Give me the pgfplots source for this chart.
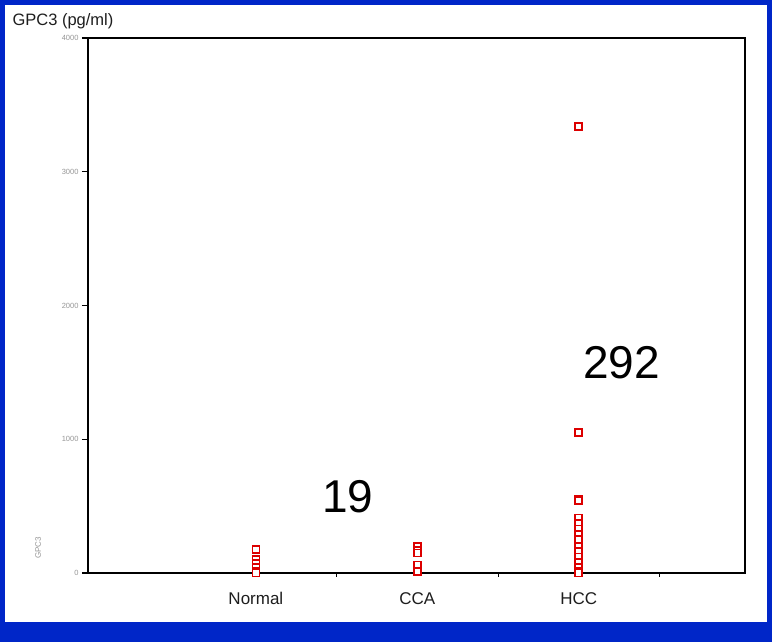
\documentclass[border=0pt]{standalone}
\usepackage{pgfplots}
\pgfplotsset{compat=1.18}
\usepackage{fontspec}
\setmainfont{Liberation Sans}
\definecolor{frameblue}{RGB}{0,38,200}
\definecolor{ptred}{RGB}{220,0,0}
\definecolor{lblgrey}{RGB}{30,30,30}
\definecolor{tickgrey}{RGB}{150,150,150}
\begin{document}
\begin{tikzpicture}[x=1pt,y=1pt]
\fill[frameblue] (0,0) rectangle (772,642);
\fill[white] (5,20) rectangle (767,637);
\node[anchor=west,text=lblgrey,font=\fontsize{16.5}{18}\selectfont] at (9,621) {GPC3 (pg/ml)};
\node[rotate=90,text=tickgrey,font=\fontsize{8}{9}\selectfont] at (38,94) {GPC3};
\begin{axis}[
  at={(88pt,69pt)}, anchor=south west,
  scale only axis, width=657pt, height=535pt,
  xmin=-0.04, xmax=4.03, ymin=0, ymax=4000,
  axis line style={black, line width=1.4pt},
  xtick pos=bottom, ytick pos=left,
  xtick={1,2,3}, xticklabels={Normal,CCA,HCC},
  minor xtick={1.5,2.5,3.5},
  major x tick style={draw=none},
  minor x tick style={black,line width=0.8pt},
  minor tick length=4pt,
  x tick label style={font=\fontsize{17}{19}\selectfont, text=lblgrey, yshift=-10pt},
  ytick={0,1000,2000,3000,4000},
  y tick style={black,line width=1.4pt},
  major tick length=6pt,
  tick align=outside,
  y tick label style={font=\fontsize{7.5}{8}\selectfont, text=tickgrey},
  scaled y ticks=false,
  /pgf/number format/assume math mode=true,
  yticklabel={\pgfmathprintnumber[fixed,precision=0,1000 sep={}]{\tick}},
  clip=false,
]
\addplot[only marks, mark=square*, mark size=3.5pt, mark options={draw=ptred, fill=white, line width=1.6pt}]
  coordinates {
  (1,175) (1,100) (1,70) (1,40) (1,10) (1,0)
  (2,200) (2,170) (2,150) (2,60) (2,10)
  (3,3340) (3,1050) (3,550) (3,540) (3,410) (3,370) (3,330) (3,290) (3,250) (3,200) (3,160) (3,120) (3,80) (3,40) (3,10) (3,0)
  };
\node[font=\fontsize{46}{50}\selectfont] at (axis cs:3.266,1571) {292};
\node[font=\fontsize{46}{50}\selectfont] at (axis cs:1.57,568) {19};
\end{axis}
\end{tikzpicture}
\end{document}
